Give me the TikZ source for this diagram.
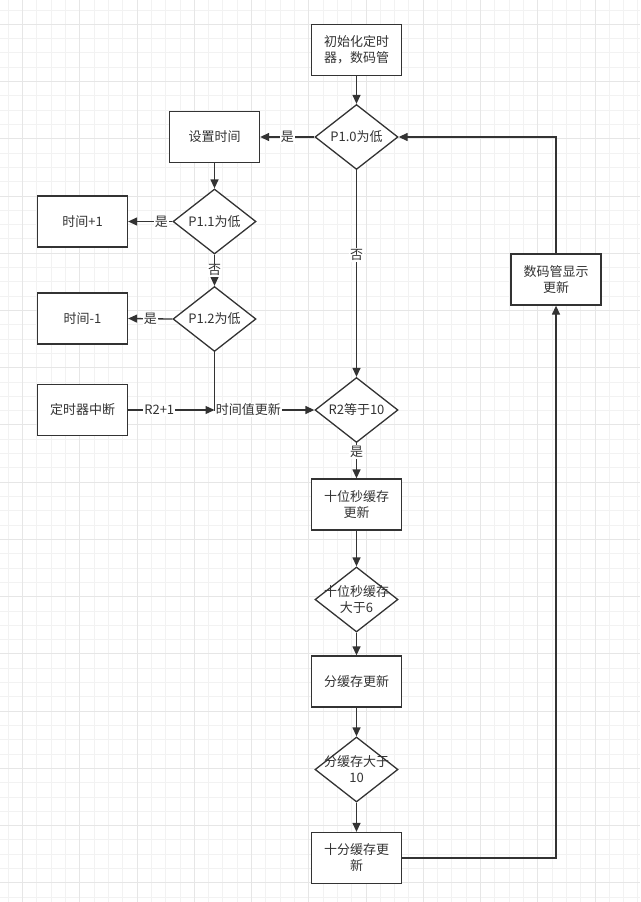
\documentclass[tikz,border=0pt]{standalone}
\usepackage{fontspec}
\setmainfont{Noto Sans CJK SC}
\usetikzlibrary{arrows.meta,shapes.geometric,positioning}
\definecolor{linegray}{HTML}{333333}
\definecolor{textgray}{HTML}{333333}
\definecolor{gridminor}{HTML}{F2F2F2}
\definecolor{gridmajor}{HTML}{E6E6E6}
\tikzset{%
        >={Triangle[length=9pt,width=8pt]},
        flow/.style={draw=linegray, line width=1.3pt},
        decision/.style={diamond, draw=linegray, line width=1.3pt, fill=white,
          minimum width=83pt, minimum height=65pt, inner sep=0pt,
          label={[text=textgray, align=center]center:#1}}
}
\tikzstyle{block}=[
    rectangle,
    draw = linegray,
    line width = 1.3pt,
    fill = white,
    text = textgray,
    minimum width = 90pt,
    minimum height = 51pt,
    align = center
]
\tikzstyle{lbl}=[
    fill = white,
    text = textgray,
    inner sep = 1pt
]
\tikzstyle{every edge}=[
    flow,
    ->
]

\begin{document}
\begin{tikzpicture}[x=1pt, y=-1pt, font=\fontsize{13}{16}\selectfont]
        \useasboundingbox[fill=white] (0,0) rectangle (640,902);
        % grid
        \foreach \k in {0,...,44}
          \draw[gridminor, line width=1pt] ({8.3+14.31*\k},0) -- ++(0,902);
        \foreach \k in {0,...,62}
          \draw[gridminor, line width=1pt] (0,{10+14.31*\k}) -- ++(640,0);
        \foreach \k in {0,...,10}
          \draw[gridmajor, line width=1pt] ({22.6+57.24*\k},0) -- ++(0,902);
        \foreach \k in {0,...,15}
          \draw[gridmajor, line width=1pt] (0,{24.3+57.24*\k}) -- ++(640,0);

        \node[block] (init) at (356.5,50) {初始化定时\\器，数码管};
        \node[decision={P1.0为低}] (p10) at (356.5,137) {};
        \node[block] (set) at (214.5,137) {设置时间};
        \node[decision={P1.1为低}] (p11) at (214.5,221.5) {};
        \node[block] (inc) at (82.5,221.5) {时间+1};
        \node[decision={P1.2为低}] (p12) at (214.5,319) {};
        \node[block] (dec) at (82.5,318.5) {时间-1};
        \node[block] (isr) at (82.5,410) {定时器中断};
        \node[decision={R2等于10}] (r2) at (356.5,410) {};
        \node[block] (sec) at (356.5,504.5) {十位秒缓存\\更新};
        \node[decision={十位秒缓存\\大于6}] (secchk) at (356.5,599.5) {};
        \node[block] (min) at (356.5,681.5) {分缓存更新};
        \node[decision={分缓存大于\\10}] (minchk) at (356.5,769.5) {};
        \node[block] (tenmin) at (356.5,858) {十分缓存更\\新};
        \node[block] (disp) at (556,279.5) {数码管显示\\更新};
        \coordinate (join) at (p12.south |- r2.west);

      \path
      (init.south)
      edge (p10.north)
      (p10.west)
      edge node[lbl]{是} (set.east)
      (p10.south)
      edge node[lbl, pos=0.41]{否} (r2.north)
      (set.south)
      edge (p11.north)
      (p11.west)
      edge node[lbl, pos=0.25]{是} (inc.east)
      (p11.south)
      edge node[lbl]{否} (p12.north)
      (p12.west)
      edge node[lbl]{是} (dec.east)
      (isr.east)
      edge node[lbl, pos=0.36]{R2+1} (join)
      (r2.south)
      edge node[lbl, pos=0.25]{是} (sec.north)
      (sec.south)
      edge (secchk.north)
      (secchk.south)
      edge (min.north)
      (min.south)
      edge (minchk.north)
      (minchk.south)
      edge (tenmin.north)
      ;
      \draw[flow, ->] (p12.south) -- (join) -- node[lbl, pos=0.34]{时间值更新} (r2.west);
      \draw[flow, ->] (tenmin.east) -| (disp.south);
      \draw[flow, ->] (disp.north) |- (p10.east);
\end{tikzpicture}
\end{document}
